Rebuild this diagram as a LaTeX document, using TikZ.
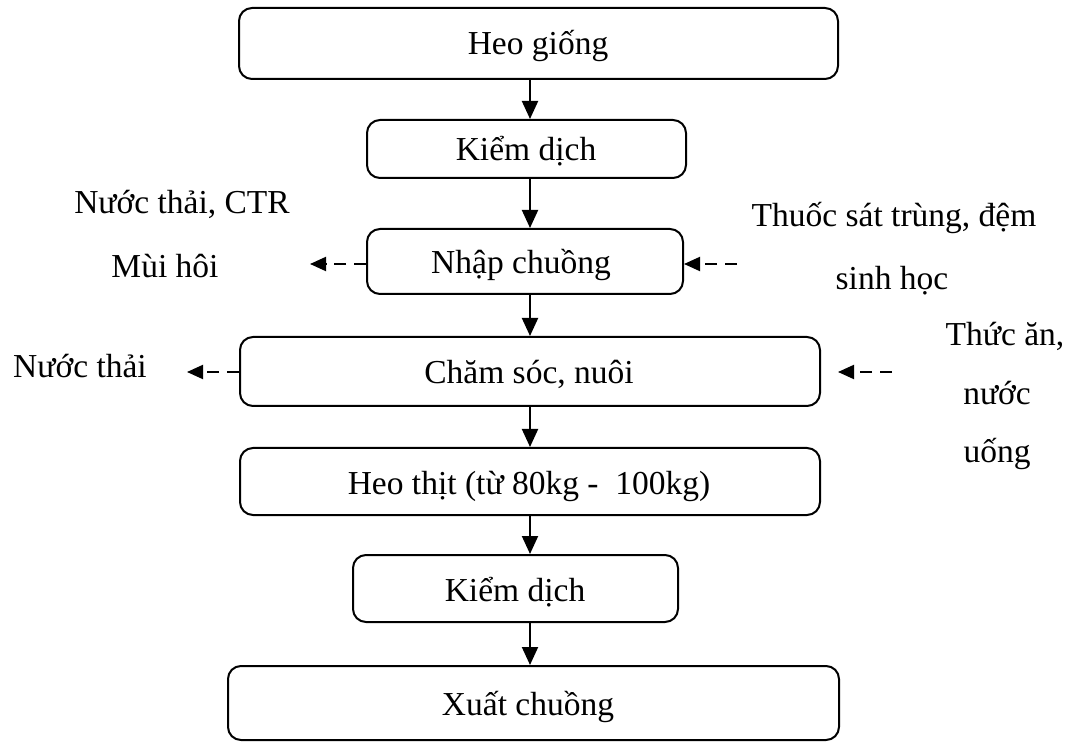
\documentclass[tikz,border=0pt]{standalone}
\usepackage{fontspec}
\setmainfont{Liberation Serif}
\usetikzlibrary{arrows.meta}
\begin{document}
\begin{tikzpicture}[x=1pt,y=-1pt,
  box/.style={draw,line width=2pt,rounded corners=13pt,inner sep=0pt},
  lbl/.style={inner sep=0pt,anchor=base,font=\fontsize{33.5}{40}\selectfont},
  flow/.style={line width=2pt,-{Triangle[width=16pt,length=18pt]}},
  side/.style={line width=2pt,dash pattern=on 12pt off 8pt,-{Triangle[width=14pt,length=16pt]}}]
\useasboundingbox (0,0) rectangle (1072,751);
\tikzset{bx/.code args={#1/#2/#3/#4}{}}
% boxes
\node[box,minimum width=599pt,minimum height=71pt] (b1) at (538.5,43.5) {};
\node[box,minimum width=319pt,minimum height=58pt] (b2) at (526.5,149) {};
\node[box,minimum width=316pt,minimum height=65pt] (b3) at (525,261.5) {};
\node[box,minimum width=580pt,minimum height=69pt] (b4) at (530,371.5) {};
\node[box,minimum width=580pt,minimum height=67pt] (b5) at (530,481.5) {};
\node[box,minimum width=325pt,minimum height=67pt] (b6) at (515.5,588.5) {};
\node[box,minimum width=611pt,minimum height=74pt] (b7) at (533.5,703) {};
% box texts
\node[lbl] (t1) at (538,55) {Heo giống};
\node[lbl] (t2) at (526,161) {Kiểm dịch};
\node[lbl] (t3) at (521,274) {Nhập chuồng};
\node[lbl] (t4) at (529,384) {Chăm sóc, nuôi};
\node[lbl] (t5) at (529,494) {Heo thịt (từ 80kg -\ \ 100kg)};
\node[lbl] (t6) at (515,601) {Kiểm dịch};
\node[lbl] (t7) at (528,715) {Xuất chuồng};
% side texts
\node[lbl] (s1) at (182,214) {Nước thải, CTR};
\node[lbl] (s2) at (165,278) {Mùi hôi};
\node[lbl] (s3) at (894,227) {Thuốc sát trùng, đệm};
\node[lbl] (s4) at (892,290) {sinh học};
\node[lbl] (s5) at (80,378) {Nước thải};
\node[lbl] (s6) at (1005,346) {Thức ăn,};
\node[lbl] (s7) at (997,405) {nước};
\node[lbl] (s8) at (997,463) {uống};
% vertical flow arrows
\draw[flow] (b1.south -| 530,0) -- (b2.north -| 530,0);
\draw[flow] (b2.south -| 530,0) -- (b3.north -| 530,0);
\draw[flow] (b3.south -| 530,0) -- (b4.north -| 530,0);
\draw[flow] (b4.south -| 530,0) -- (b5.north -| 530,0);
\draw[flow] (b5.south -| 530,0) -- (b6.north -| 530,0);
\draw[flow] (b6.south -| 530,0) -- (b7.north -| 530,0);
% dashed side arrows
\coordinate (l3) at (310,264);
\coordinate (r3) at (737,264);
\coordinate (l4) at (187,372);
\coordinate (r4a) at (892,372);
\coordinate (r4b) at (838,372);
\draw[side] (b3.west |- l3) -- (l3);
\draw[side] (r3) -- (b3.east |- r3);
\draw[side] (b4.west |- l4) -- (l4);
\draw[side] (r4a) -- (r4b);
\end{tikzpicture}
\end{document}
